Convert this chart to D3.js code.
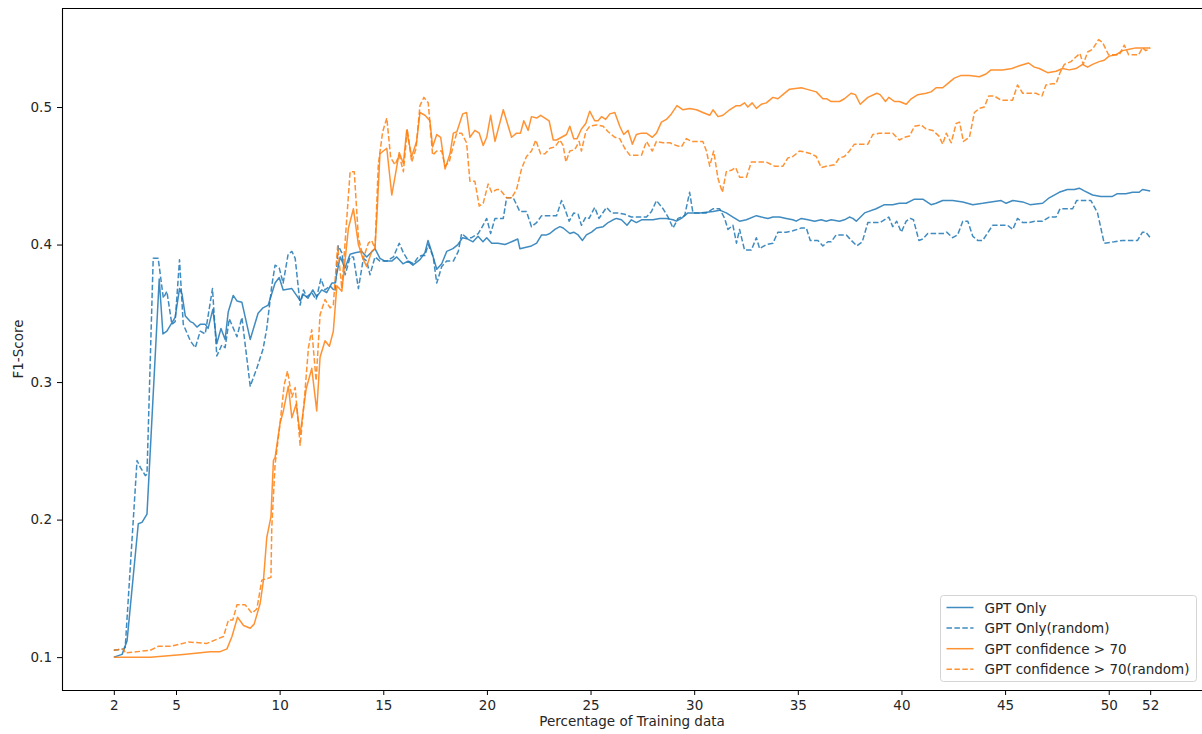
<!DOCTYPE html>
<html>
<head>
<meta charset="utf-8">
<script src="https://cdn.jsdelivr.net/npm/d3@7"></script>
<style>
  html, body { margin: 0; padding: 0; background: #fff; }
  svg text { font-family: "DejaVu Sans", sans-serif; fill: #262626; }
</style>
</head>
<body>
<div id="chart"></div>
<script>
// x tick labels (percentage of training data)
const xTicks = [2, 5, 10, 15, 20, 25, 30, 35, 40, 45, 50, 52];
const yTicks = [0.1, 0.2, 0.3, 0.4, 0.5];

// [percentage, f1]
const gptOnly = [
  [2.00,0.100],[2.40,0.102],[2.64,0.112],[3.18,0.197],[3.36,0.198],[3.60,0.204],[4.19,0.375],[4.37,0.335],
  [4.56,0.337],[4.80,0.343],[4.96,0.347],[5.17,0.368],[5.29,0.364],[5.45,0.348],[5.69,0.344],[5.83,0.343],
  [6.01,0.340],[6.17,0.342],[6.41,0.342],[6.55,0.339],[6.78,0.353],[6.97,0.328],[7.17,0.339],[7.37,0.331],
  [7.52,0.351],[7.76,0.363],[7.94,0.359],[8.18,0.358],[8.58,0.331],[8.96,0.350],[9.20,0.354],[9.45,0.356],
  [9.78,0.372],[9.98,0.376],[10.17,0.367],[10.59,0.368],[11.00,0.359],[11.13,0.364],[11.37,0.361],[11.60,0.367],
  [11.79,0.362],[12.03,0.367],[12.27,0.365],[12.52,0.372],[12.67,0.372],[12.92,0.391],[13.16,0.383],[13.40,0.393],
  [13.64,0.394],[13.96,0.395],[14.20,0.391],[14.60,0.397],[14.84,0.390],[15.08,0.388],[15.41,0.388],[15.65,0.391],
  [15.95,0.386],[16.19,0.388],[16.43,0.385],[16.77,0.389],[17.01,0.394],[17.16,0.403],[17.33,0.395],[17.58,0.382],
  [17.82,0.386],[18.06,0.395],[18.36,0.397],[18.60,0.400],[18.83,0.405],[19.08,0.404],[19.33,0.402],[19.57,0.406],
  [19.81,0.402],[19.99,0.405],[20.23,0.401],[20.53,0.401],[20.87,0.400],[21.19,0.402],[21.49,0.404],[21.59,0.397],
  [22.15,0.399],[22.40,0.401],[22.64,0.407],[22.88,0.407],[23.04,0.408],[23.28,0.411],[23.52,0.413],[23.68,0.412],
  [24.00,0.408],[24.19,0.409],[24.40,0.407],[24.61,0.403],[24.80,0.407],[25.05,0.409],[25.29,0.412],[25.61,0.413],
  [25.85,0.416],[26.09,0.418],[26.25,0.419],[26.49,0.418],[26.76,0.414],[26.97,0.418],[27.21,0.416],[27.46,0.418],
  [27.70,0.418],[28.01,0.418],[28.34,0.419],[28.66,0.419],[28.98,0.418],[29.14,0.417],[29.38,0.419],[29.70,0.423],
  [30.27,0.423],[30.91,0.424],[31.23,0.425],[31.55,0.423],[31.87,0.420],[32.19,0.417],[32.52,0.418],[33.00,0.421],
  [33.24,0.420],[33.56,0.419],[33.80,0.420],[34.12,0.420],[34.44,0.419],[34.76,0.418],[34.92,0.417],[35.17,0.419],
  [35.49,0.418],[35.81,0.417],[36.13,0.418],[36.37,0.417],[36.61,0.418],[37.01,0.417],[37.25,0.418],[37.49,0.420],
  [37.65,0.419],[37.82,0.417],[38.22,0.423],[38.78,0.426],[39.18,0.429],[39.58,0.429],[39.90,0.430],[40.23,0.430],
  [40.63,0.433],[41.03,0.433],[41.43,0.429],[41.67,0.430],[41.99,0.432],[42.47,0.432],[42.96,0.431],[43.44,0.429],
  [43.92,0.430],[44.32,0.431],[44.81,0.432],[45.05,0.430],[45.37,0.432],[45.85,0.431],[46.20,0.429],[46.81,0.430],
  [47.13,0.434],[47.61,0.438],[48.01,0.440],[48.34,0.440],[48.58,0.441],[48.82,0.439],[49.22,0.436],[49.62,0.435],
  [50.18,0.435],[50.42,0.437],[50.83,0.437],[51.15,0.438],[51.47,0.438],[51.63,0.440],[52.00,0.439]
];

const gptOnlyRandom = [
  [2.00,0.105],[2.47,0.106],[2.55,0.107],[3.12,0.243],[3.28,0.238],[3.52,0.232],[3.60,0.233],[3.90,0.390],
  [4.14,0.390],[4.39,0.361],[4.56,0.366],[4.80,0.342],[4.96,0.344],[5.17,0.389],[5.35,0.342],[5.69,0.330],
  [5.93,0.325],[6.17,0.337],[6.41,0.335],[6.76,0.368],[6.97,0.319],[7.21,0.327],[7.37,0.325],[7.57,0.346],
  [7.94,0.333],[8.18,0.347],[8.58,0.297],[8.90,0.310],[9.20,0.324],[9.38,0.339],[9.62,0.370],[9.78,0.385],
  [9.98,0.383],[10.17,0.372],[10.41,0.393],[10.59,0.395],[10.75,0.390],[10.99,0.356],[11.15,0.367],[11.31,0.362],
  [11.55,0.365],[11.76,0.360],[11.99,0.375],[12.19,0.367],[12.43,0.370],[12.67,0.366],[12.83,0.399],[13.00,0.394],
  [13.16,0.378],[13.40,0.391],[13.56,0.391],[13.80,0.368],[14.04,0.390],[14.20,0.388],[14.36,0.378],[14.60,0.391],
  [14.84,0.388],[15.17,0.388],[15.49,0.391],[15.77,0.401],[15.97,0.394],[16.21,0.388],[16.46,0.386],[16.69,0.391],
  [16.85,0.392],[17.01,0.392],[17.17,0.400],[17.41,0.391],[17.58,0.372],[17.82,0.384],[18.06,0.388],[18.38,0.388],
  [18.62,0.395],[18.78,0.408],[19.02,0.405],[19.26,0.405],[19.58,0.408],[19.74,0.412],[19.99,0.419],[20.18,0.408],
  [20.39,0.419],[20.79,0.419],[20.95,0.434],[21.27,0.434],[21.59,0.424],[21.91,0.424],[22.15,0.413],[22.40,0.416],
  [22.64,0.421],[22.94,0.421],[23.36,0.421],[23.60,0.432],[23.76,0.426],[23.97,0.417],[24.19,0.423],[24.40,0.422],
  [24.56,0.414],[24.77,0.420],[24.93,0.419],[25.20,0.427],[25.41,0.419],[25.77,0.427],[26.01,0.423],[26.33,0.423],
  [26.65,0.422],[26.97,0.420],[27.37,0.420],[27.70,0.420],[27.94,0.424],[28.18,0.432],[28.50,0.426],[28.74,0.420],
  [28.98,0.412],[29.22,0.419],[29.54,0.421],[29.78,0.438],[29.94,0.423],[30.27,0.423],[30.59,0.423],[30.91,0.426],
  [31.23,0.426],[31.47,0.419],[31.63,0.411],[31.87,0.414],[32.04,0.401],[32.19,0.411],[32.43,0.396],[32.76,0.396],
  [33.00,0.405],[33.16,0.397],[33.48,0.400],[33.80,0.401],[34.04,0.409],[34.44,0.409],[34.76,0.410],[35.17,0.412],
  [35.41,0.412],[35.60,0.403],[35.97,0.403],[36.21,0.399],[36.45,0.402],[36.61,0.402],[36.85,0.407],[37.34,0.407],
  [37.58,0.403],[37.85,0.399],[38.11,0.402],[38.38,0.416],[38.70,0.416],[38.97,0.416],[39.39,0.420],[39.58,0.413],
  [39.77,0.417],[39.99,0.409],[40.23,0.417],[40.42,0.419],[40.58,0.418],[40.84,0.403],[41.03,0.404],[41.27,0.408],
  [41.67,0.408],[42.07,0.408],[42.18,0.409],[42.47,0.405],[42.71,0.407],[42.96,0.417],[43.20,0.417],[43.44,0.406],
  [43.68,0.403],[43.92,0.403],[44.40,0.414],[44.81,0.414],[45.12,0.414],[45.37,0.411],[45.60,0.419],[45.85,0.416],
  [46.17,0.416],[46.46,0.417],[46.81,0.417],[47.13,0.420],[47.46,0.420],[47.65,0.426],[48.01,0.426],[48.26,0.426],
  [48.45,0.432],[48.74,0.432],[49.14,0.432],[49.46,0.423],[49.78,0.401],[50.27,0.402],[50.67,0.403],[51.39,0.403],
  [51.63,0.409],[51.79,0.409],[52.00,0.405]
];

const conf70 = [
  [2.00,0.100],[3.76,0.100],[5.35,0.102],[6.65,0.104],[7.13,0.104],[7.46,0.106],[7.70,0.115],[7.97,0.129],
  [8.26,0.123],[8.58,0.121],[8.77,0.124],[9.06,0.139],[9.22,0.156],[9.38,0.187],[9.58,0.202],[9.70,0.243],
  [9.78,0.245],[10.02,0.270],[10.18,0.279],[10.42,0.297],[10.59,0.274],[10.80,0.284],[10.99,0.262],[11.28,0.295],
  [11.55,0.310],[11.79,0.279],[11.95,0.318],[12.19,0.330],[12.40,0.326],[12.59,0.337],[12.76,0.370],[13.00,0.366],
  [13.32,0.412],[13.56,0.426],[13.80,0.400],[14.01,0.390],[14.20,0.384],[14.44,0.395],[14.60,0.397],[14.71,0.426],
  [14.84,0.466],[15.17,0.470],[15.41,0.436],[15.61,0.453],[15.77,0.467],[15.97,0.459],[16.13,0.483],[16.37,0.464],
  [16.61,0.475],[16.77,0.496],[17.01,0.494],[17.25,0.490],[17.38,0.471],[17.58,0.480],[17.77,0.478],[17.98,0.455],
  [18.22,0.466],[18.38,0.481],[18.55,0.482],[18.83,0.495],[19.02,0.496],[19.18,0.478],[19.42,0.483],[19.63,0.481],
  [19.82,0.472],[19.99,0.478],[20.18,0.494],[20.39,0.475],[20.79,0.498],[21.19,0.478],[21.43,0.481],[21.62,0.481],
  [21.78,0.490],[21.99,0.483],[22.15,0.493],[22.40,0.492],[22.59,0.494],[22.80,0.492],[23.00,0.490],[23.20,0.476],
  [23.36,0.476],[23.60,0.478],[23.84,0.480],[24.00,0.486],[24.19,0.477],[24.35,0.477],[24.56,0.484],[24.77,0.488],
  [24.96,0.497],[25.20,0.490],[25.36,0.490],[25.53,0.493],[25.73,0.491],[25.93,0.495],[26.17,0.496],[26.41,0.486],
  [26.60,0.480],[26.81,0.483],[27.02,0.473],[27.21,0.480],[27.46,0.481],[27.70,0.481],[27.98,0.478],[28.18,0.481],
  [28.42,0.489],[28.66,0.491],[28.90,0.495],[29.17,0.501],[29.46,0.498],[29.78,0.499],[30.11,0.498],[30.42,0.496],
  [30.75,0.494],[30.91,0.498],[31.15,0.493],[31.39,0.494],[31.71,0.498],[32.03,0.501],[32.23,0.501],[32.43,0.503],
  [32.59,0.500],[32.80,0.503],[33.00,0.499],[33.24,0.502],[33.48,0.503],[33.80,0.507],[34.04,0.506],[34.28,0.509],
  [34.60,0.513],[35.17,0.514],[35.41,0.513],[35.89,0.511],[36.21,0.506],[36.40,0.506],[36.61,0.504],[37.01,0.504],
  [37.25,0.506],[37.57,0.510],[37.78,0.509],[38.01,0.502],[38.38,0.507],[38.81,0.510],[38.97,0.509],[39.23,0.504],
  [39.39,0.507],[39.66,0.504],[39.90,0.504],[40.23,0.502],[40.47,0.506],[40.79,0.509],[41.19,0.510],[41.43,0.511],
  [41.67,0.514],[41.99,0.514],[42.23,0.517],[42.55,0.521],[42.88,0.523],[43.28,0.523],[43.76,0.522],[44.08,0.524],
  [44.32,0.527],[44.56,0.527],[44.88,0.527],[45.33,0.528],[45.69,0.530],[46.13,0.532],[46.41,0.529],[46.65,0.528],
  [47.05,0.525],[47.46,0.526],[47.77,0.528],[48.10,0.527],[48.42,0.528],[48.74,0.531],[48.98,0.529],[49.22,0.531],
  [49.54,0.533],[49.78,0.534],[50.02,0.537],[50.35,0.538],[50.67,0.541],[50.99,0.542],[51.31,0.543],[51.63,0.543],
  [52.00,0.543]
];

const conf70Random = [
  [2.00,0.105],[2.47,0.106],[2.55,0.103],[3.76,0.105],[4.16,0.108],[4.80,0.108],[5.60,0.111],[6.49,0.110],
  [6.81,0.112],[7.29,0.115],[7.53,0.127],[7.74,0.127],[7.94,0.138],[8.34,0.138],[8.66,0.132],[8.90,0.135],
  [9.14,0.156],[9.58,0.158],[9.62,0.194],[9.78,0.240],[10.02,0.270],[10.22,0.298],[10.38,0.308],[10.59,0.289],
  [10.75,0.296],[10.99,0.254],[11.20,0.289],[11.39,0.325],[11.55,0.338],[11.76,0.301],[11.95,0.349],[12.19,0.360],
  [12.43,0.354],[12.59,0.356],[12.80,0.399],[13.00,0.368],[13.24,0.419],[13.40,0.453],[13.60,0.453],[13.80,0.405],
  [14.04,0.390],[14.28,0.401],[14.44,0.403],[14.60,0.397],[14.76,0.458],[14.97,0.482],[15.17,0.492],[15.36,0.463],
  [15.57,0.458],[15.77,0.465],[15.97,0.453],[16.16,0.484],[16.37,0.460],[16.58,0.470],[16.77,0.501],[16.96,0.507],
  [17.17,0.503],[17.38,0.465],[17.58,0.468],[17.82,0.468],[17.98,0.457],[18.18,0.460],[18.38,0.472],[18.54,0.481],
  [18.78,0.481],[19.02,0.474],[19.18,0.446],[19.42,0.446],[19.63,0.428],[19.82,0.430],[20.06,0.444],[20.23,0.438],
  [20.47,0.440],[20.63,0.440],[20.95,0.434],[21.19,0.434],[21.43,0.440],[21.67,0.455],[21.91,0.464],[22.15,0.468],
  [22.36,0.476],[22.59,0.466],[22.80,0.466],[23.04,0.470],[23.28,0.471],[23.52,0.476],[23.68,0.472],[23.81,0.460],
  [24.00,0.468],[24.24,0.469],[24.45,0.475],[24.56,0.468],[24.77,0.482],[24.96,0.486],[25.29,0.487],[25.61,0.486],
  [25.85,0.482],[26.17,0.478],[26.41,0.477],[26.65,0.470],[26.89,0.465],[27.13,0.465],[27.46,0.465],[27.70,0.475],
  [27.98,0.468],[28.18,0.475],[28.50,0.474],[28.82,0.474],[29.14,0.472],[29.38,0.471],[29.62,0.477],[29.86,0.475],
  [30.18,0.475],[30.42,0.475],[30.59,0.468],[30.75,0.457],[30.94,0.468],[31.15,0.448],[31.36,0.438],[31.55,0.453],
  [31.79,0.454],[32.00,0.456],[32.19,0.449],[32.52,0.449],[32.76,0.460],[33.08,0.460],[33.48,0.460],[33.88,0.457],
  [34.28,0.457],[34.52,0.463],[34.76,0.464],[35.08,0.468],[35.41,0.467],[35.65,0.466],[35.89,0.464],[36.13,0.456],
  [36.37,0.457],[36.77,0.458],[37.01,0.463],[37.25,0.464],[37.49,0.468],[37.73,0.473],[38.06,0.473],[38.38,0.473],
  [38.62,0.480],[38.94,0.481],[39.26,0.481],[39.58,0.481],[39.90,0.476],[40.14,0.478],[40.39,0.479],[40.63,0.486],
  [40.95,0.487],[41.19,0.484],[41.51,0.483],[41.80,0.479],[41.99,0.473],[42.16,0.481],[42.40,0.474],[42.64,0.488],
  [42.80,0.489],[42.99,0.475],[43.28,0.478],[43.52,0.496],[43.76,0.499],[44.00,0.500],[44.21,0.508],[44.48,0.508],
  [44.80,0.505],[45.12,0.505],[45.36,0.505],[45.60,0.516],[45.85,0.510],[46.17,0.510],[46.49,0.510],[46.78,0.508],
  [46.97,0.516],[47.29,0.517],[47.46,0.517],[47.65,0.525],[47.86,0.531],[48.18,0.533],[48.39,0.536],[48.61,0.539],
  [48.77,0.531],[48.98,0.540],[49.22,0.542],[49.51,0.549],[49.70,0.547],[49.99,0.538],[50.27,0.538],[50.51,0.538],
  [50.75,0.545],[50.96,0.538],[51.23,0.538],[51.44,0.538],[51.63,0.543],[51.79,0.541],[52.00,0.543]
];

const series = [
  {name: "GPT Only", data: gptOnly, color: "#1f77b4", dash: null},
  {name: "GPT Only(random)", data: gptOnlyRandom, color: "#1f77b4", dash: "5.5,2.4"},
  {name: "GPT confidence > 70", data: conf70, color: "#ff7f0e", dash: null},
  {name: "GPT confidence > 70(random)", data: conf70Random, color: "#ff7f0e", dash: "5.5,2.4"}
];

const width = 1202, height = 734;
const margin = {top: 8, right: 0, bottom: 44, left: 62};

const svg = d3.select("#chart").append("svg")
  .attr("width", width)
  .attr("height", height);

// matplotlib-like 5% margins around the data range
const x = d3.scaleLinear().domain([-0.5, 54.5]).range([margin.left, width - margin.right]);
const y = d3.scaleLinear().domain([0.0761, 0.5720]).range([height - margin.bottom, margin.top]);

const line = d3.line().x(d => x(d[0])).y(d => y(d[1]));

// lines
series.forEach(s => {
  svg.append("path")
    .datum(s.data)
    .attr("fill", "none")
    .attr("stroke", s.color)
    .attr("stroke-width", 1.5)
    .attr("stroke-opacity", 0.85)
    .attr("stroke-dasharray", s.dash)
    .attr("stroke-linejoin", "round")
    .attr("d", line);
});

// axes
const xAxis = svg.append("g")
  .attr("transform", `translate(0,${height - margin.bottom})`)
  .call(d3.axisBottom(x).tickValues(xTicks).tickFormat(d3.format("d")).tickSize(5).tickPadding(5));
const yAxis = svg.append("g")
  .attr("transform", `translate(${margin.left},0)`)
  .call(d3.axisLeft(y).tickValues(yTicks).tickFormat(d3.format(".1f")).tickSize(5).tickPadding(5));

[xAxis, yAxis].forEach(g => {
  g.select(".domain").remove();
  g.selectAll(".tick line").attr("stroke", "#000").attr("stroke-width", 1);
  g.selectAll(".tick text").attr("font-size", 13.5).attr("fill", "#262626")
    .style("font-family", "'DejaVu Sans', sans-serif");
});

// frame (right edge is cropped in the reference)
svg.append("path")
  .attr("d", `M${width},${margin.top + 0.5}H${margin.left + 0.5}V${height - margin.bottom + 0.5}H${width}`)
  .attr("fill", "none")
  .attr("stroke", "#000")
  .attr("stroke-width", 1.1);

// axis labels
svg.append("text")
  .attr("x", (margin.left + width) / 2)
  .attr("y", 726)
  .attr("text-anchor", "middle")
  .attr("font-size", 13.5)
  .text("Percentage of Training data");

svg.append("text")
  .attr("transform", `translate(23,${(margin.top + height - margin.bottom) / 2}) rotate(-90)`)
  .attr("text-anchor", "middle")
  .attr("font-size", 13.5)
  .text("F1-Score");

// legend
const lg = svg.append("g").attr("transform", "translate(940.5,595.5)");
lg.append("rect")
  .attr("width", 256).attr("height", 86).attr("rx", 3)
  .attr("fill", "#fff").attr("fill-opacity", 0.8)
  .attr("stroke", "#d4d4d4");
series.forEach((s, i) => {
  const ly = 12 + i * 20.6;
  lg.append("line")
    .attr("x1", 6).attr("x2", 33).attr("y1", ly).attr("y2", ly)
    .attr("stroke", s.color).attr("stroke-width", 1.5)
    .attr("stroke-opacity", 0.85)
    .attr("stroke-dasharray", s.dash);
  lg.append("text")
    .attr("x", 44).attr("y", ly + 5)
    .attr("font-size", 13.5)
    .text(s.name);
});
</script>
</body>
</html>
